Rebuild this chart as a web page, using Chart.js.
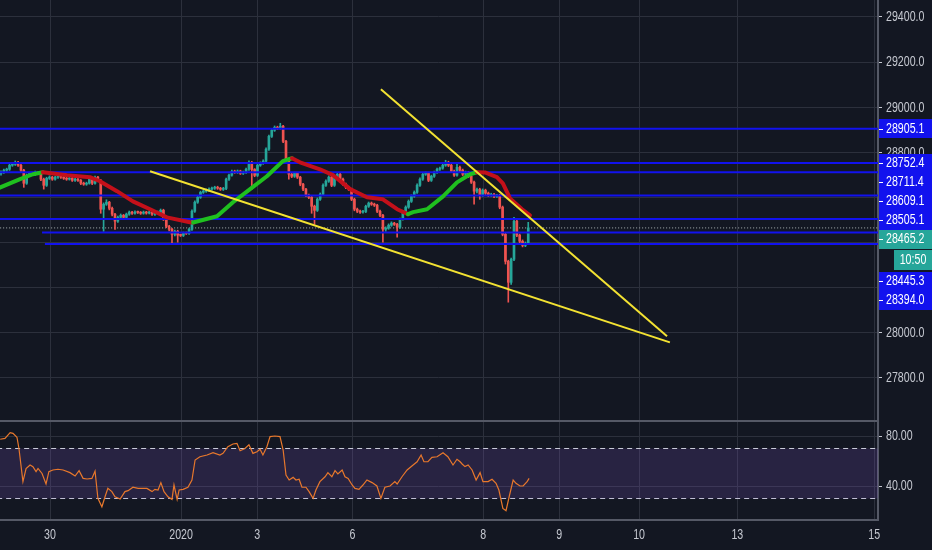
<!DOCTYPE html>
<html><head><meta charset="utf-8">
<script src="https://cdn.jsdelivr.net/npm/chart.js@4.4.1/dist/chart.umd.min.js"></script>
<style>
html,body{margin:0;padding:0;background:#131722;overflow:hidden}
#wrap{position:relative;width:932px;height:550px;background:#131722}
canvas{position:absolute;left:0}
#main{top:0}
#rsi{top:422px}
</style></head><body>
<div id="wrap"><canvas id="main" width="932" height="422"></canvas><canvas id="rsi" width="932" height="128"></canvas></div>
<script>
// ---------- data (hourly bars, index = bar number) ----------
const opens=[28705,28712,28721,28725,28743,28747,28756,28743,28721,28663,
28699,28707,28703,28712,28707,28681,28654,28685,28690,28681,
28690,28694,28690,28685,28681,28685,28676,28681,28676,28663,
28659,28663,28681,28663,28690,28676,28548,28570,28579,28552,
28526,28495,28512,28521,28512,28526,28535,28530,28535,28534,
28530,28535,28531,28535,28526,28530,28535,28543,28504,28472,
28459,28437,28450,28433,28432,28442,28441,28459,28539,28579,
28601,28623,28628,28632,28637,28641,28645,28641,28636,28640,
28681,28699,28716,28712,28717,28707,28712,28725,28756,28724,
28698,28743,28752,28761,28814,28871,28898,28911,28907,28916,
28849,28770,28703,28694,28707,28690,28659,28637,28610,28601,
28561,28543,28592,28614,28654,28672,28690,28654,28689,28703,
28681,28659,28645,28637,28592,28548,28539,28535,28538,28561,
28575,28570,28566,28539,28521,28459,28464,28477,28486,28481,
28468,28504,28530,28557,28583,28606,28623,28654,28681,28703,
28707,28676,28694,28712,28725,28730,28743,28756,28743,28716,
28699,28734,28721,28703,28711,28694,28668,28628,28636,28610,
28632,28619,28610,28614,28605,28609,28557,28437,28317,28224,
28326,28495,28433,28406,28388,28397];
const highs=[28718,28726,28730,28748,28753,28762,28760,28747,28725,28704,
28712,28712,28717,28716,28711,28686,28690,28696,28694,28695,
28699,28698,28694,28690,28690,28689,28686,28685,28680,28668,
28668,28686,28685,28695,28694,28680,28576,28590,28583,28557,
28530,28518,28527,28525,28531,28540,28539,28541,28540,28538,
28540,28539,28540,28539,28535,28540,28549,28548,28508,28477,
28463,28456,28455,28438,28447,28447,28464,28545,28585,28607,
28628,28634,28638,28643,28646,28650,28650,28645,28645,28686,
28704,28722,28721,28722,28721,28717,28730,28762,28760,28728,
28748,28758,28767,28820,28877,28904,28917,28916,28929,28920,
28853,28775,28708,28712,28711,28694,28663,28641,28615,28605,
28566,28598,28620,28660,28678,28696,28695,28694,28709,28707,
28686,28664,28650,28641,28597,28553,28544,28543,28566,28580,
28580,28575,28570,28544,28525,28470,28483,28492,28490,28485,
28509,28536,28563,28589,28612,28629,28660,28687,28709,28713,
28712,28699,28717,28730,28735,28749,28765,28761,28748,28721,
28750,28739,28726,28717,28716,28699,28673,28642,28641,28638,
28637,28624,28619,28619,28614,28614,28562,28442,28322,28332,
28512,28500,28438,28412,28403,28490];
const lows=[28699,28707,28716,28720,28738,28742,28738,28715,28645,28658,
28694,28697,28698,28702,28675,28637,28649,28680,28676,28677,
28685,28685,28680,28676,28677,28671,28671,28671,28657,28654,
28654,28659,28657,28659,28671,28530,28450,28565,28545,28518,
28459,28490,28507,28507,28508,28521,28525,28526,28529,28525,
28526,28526,28527,28521,28521,28525,28530,28498,28466,28452,
28397,28430,28402,28427,28427,28436,28436,28454,28534,28574,
28596,28618,28623,28627,28632,28636,28636,28631,28631,28635,
28676,28694,28707,28707,28702,28702,28707,28720,28637,28692,
28693,28738,28747,28756,28809,28866,28893,28901,28902,28843,
28763,28681,28688,28689,28684,28652,28630,28604,28595,28530,
28481,28538,28587,28609,28649,28667,28648,28649,28684,28675,
28653,28639,28631,28586,28541,28533,28529,28530,28533,28556,
28565,28560,28533,28515,28402,28450,28459,28472,28476,28424,
28463,28499,28525,28552,28578,28601,28618,28649,28676,28698,
28670,28671,28689,28707,28720,28725,28738,28737,28710,28693,
28694,28715,28697,28698,28688,28662,28570,28620,28592,28605,
28613,28604,28605,28599,28600,28550,28430,28305,28136,28215,
28320,28426,28399,28381,28382,28391];
const closes=[28712,28721,28725,28743,28747,28756,28743,28721,28663,28699,
28707,28703,28712,28707,28681,28654,28685,28690,28681,28690,
28694,28690,28685,28681,28685,28676,28681,28676,28663,28659,
28663,28681,28663,28690,28676,28548,28570,28579,28552,28526,
28495,28512,28521,28512,28526,28535,28530,28535,28534,28530,
28535,28531,28535,28526,28530,28535,28543,28504,28472,28459,
28437,28450,28433,28432,28442,28441,28459,28539,28579,28601,
28623,28628,28632,28637,28641,28645,28641,28636,28640,28681,
28699,28716,28712,28717,28707,28712,28725,28756,28724,28698,
28743,28752,28761,28814,28871,28898,28911,28907,28916,28849,
28770,28703,28694,28707,28690,28659,28637,28610,28601,28561,
28543,28592,28614,28654,28672,28690,28654,28689,28703,28681,
28659,28645,28637,28592,28548,28539,28535,28538,28561,28575,
28570,28566,28539,28521,28459,28464,28477,28486,28481,28468,
28504,28530,28557,28583,28606,28623,28654,28681,28703,28707,
28676,28694,28712,28725,28730,28743,28756,28743,28716,28699,
28734,28721,28703,28711,28694,28668,28628,28636,28610,28632,
28619,28610,28614,28605,28609,28557,28437,28317,28224,28326,
28495,28433,28406,28388,28397,28465.2];

// moving average line
const maX=[-1,6.7,11.2,14.7,23.2,31.2,34.7,40.7,46.3,52.3,58.2,66.3,67.4,75.8,81.4,87.4,93.3,98.9,102.1,104.9,111.9,116.5,122.5,128.4,134.0,139.0,142.8,144.6,149.5,155.1,160.0,164.6,167.0,169.8,174.0,176.1,178.6,182.8,185.6];
const maY=[28641,28681,28703,28712,28699,28690,28672,28628,28583,28548,28512,28490,28489,28517,28579,28637,28694,28761,28774,28756,28725,28699,28637,28601,28592,28548,28526,28535,28548,28605,28667,28703,28712,28711,28690,28663,28596,28548,28521];

// RSI
const rsiX=[-0.3,1.4,3.2,4.2,5.6,6.3,7.7,8.8,10.2,11.2,12.3,13.0,14.4,15.8,16.8,18.2,20.0,21.8,24.2,26.0,27.4,28.8,30.2,31.9,33.0,34.0,35.4,36.5,37.5,38.9,40.0,41.8,43.5,44.6,46.3,48.1,51.2,53.0,54.0,55.1,56.1,57.2,58.6,60.0,60.7,61.8,62.5,63.9,65.6,67.0,68.1,69.8,72.3,74.4,76.8,77.9,79.6,81.4,82.8,83.9,85.6,87.0,88.4,89.8,90.9,91.9,93.3,94.4,96.1,97.9,99.0,100.0,101.1,102.5,103.5,104.6,105.6,107.0,108.1,109.5,110.5,111.9,113.7,114.7,116.1,117.2,118.2,119.7,120.7,121.8,123.2,124.2,125.6,127.0,128.4,130.2,131.9,133.3,134.7,136.5,138.2,139.0,140.7,142.5,144.6,146.0,147.4,148.4,149.8,151.2,153.0,155.1,156.8,158.6,160.0,161.1,161.8,162.8,163.9,165.3,166.7,168.1,169.1,170.9,172.3,173.7,174.7,176.1,177.2,178.3,179.7,180.7,182.1,183.2,184.6,185.3];
const rsiY=[77.4,78.1,82.7,82.1,79,70,43.5,54,56.8,55.5,51.5,54,50,41.6,51.5,52.8,53.4,52.8,50.7,48,52.3,46.1,45.6,46.1,52,30.1,23.4,31.4,38.1,35.5,31.4,29.6,35.5,36.3,39,38.1,38.1,35.5,37.3,36.8,42.7,35.5,31.4,29.3,40.8,29.3,36.8,37.3,39,44.8,60.8,63.4,64.8,66.6,64.8,66.1,71.4,73.6,74.1,68.2,70,73,66.1,67.4,69.4,64.8,71.4,79.5,80,79.5,68.8,48.8,44.8,46.9,44.8,45.4,39,39,35.5,30.1,36.8,43.5,47.4,50.7,47.4,52.3,49.6,52.8,47.4,46.1,40.8,38.1,37.3,40.8,44.8,42.7,40,30.1,39,40,43.5,41.6,47.4,52.8,56.8,59.4,64.8,59.4,59.4,62.9,63.4,66.6,63.4,56.8,61.4,59.4,57.6,55.5,56.8,52.8,44.8,50.7,43.5,43.5,45.4,42.1,36.8,22.1,20.2,31.4,44.8,42.1,40,40,43.5,46.1];
const rsiLevels=[70,30];

// horizontal levels and trend lines
const levelPrices=[28905.1,28752.4,28711.4,28609.1,28505.1,28445.3,28394.0];
const levelStarts=[-1,-1,-1,-1,-1,14.4,15.4];
const lastPrice=28465.2;
const countdown='10:50';
const trendLower={x:[52.3,234.7],y:[28716,27958]};
const trendUpper={x:[133.3,233.7],y:[29080,27985]};

// axes
const tickLabels=['30','2020','3','6','8','9','10','13','15'];
const tickPositions=[17.2,63.2,89.9,123.3,169.2,195.9,223.9,258.35,306.4];
const priceTicks=[27800,28000,28200,28400,28600,28800,29000,29200,29400];
const rsiTicks=[40,80];

// ---------- styling ----------
const FONT="'Liberation Sans',Arial,sans-serif";
Chart.defaults.font.family=FONT;
const BG='#131722', GRID='#2c303c', SEP='#555966', TXT='#c5c8d0';
const UP='#26a69a', DOWN='#ef5350', BLUE='#1212ee', YEL='#f3e232';
const XMIN=-0.35, XMAX=307.72;
const PMAX=29475.3, PMIN=27609.4;
const SQ=0.76, FS=14; // condensed text like the reference's narrow face

const idx=closes.map((_,i)=>i);
const candleColor=c=>closes[c.dataIndex]>=opens[c.dataIndex]?UP:DOWN;
const pts=(xs,ys)=>xs.map((x,i)=>({x,y:ys[i]}));

function narrowText(c,text,x,y,align,color){
  c.save();c.font=FS+"px "+FONT;c.fillStyle=color;c.textBaseline='middle';c.textAlign=align;
  c.translate(x,y);c.scale(SQ,1);c.fillText(text,0,0);c.restore();
}

const bgPlugin={id:'bg',beforeDraw(ch){const c=ch.ctx;c.save();c.fillStyle=BG;c.fillRect(0,0,ch.width,ch.height);c.restore();}};

const axisTextPlugin={id:'axisText',afterDraw(ch,args,opts){
  const c=ch.ctx, y=ch.scales.y;
  y.ticks.forEach(t=>{const py=y.getPixelForValue(t.value);narrowText(c,Number(t.value).toFixed(opts.dec),y.left+8,py+0.5,'left',TXT);});
  if(opts.xlabels){const x=ch.scales.x;
    x.ticks.forEach((t,i)=>{narrowText(c,tickLabels[i],x.getPixelForValue(t.value),x.top+15,'center',TXT);});}
}};

const labelPlugin={id:'lbls',afterDraw(ch){
  const c=ch.ctx, y=ch.scales.y, left=y.left, W=ch.width-left, H=19;
  const items=levelPrices.map(p=>({p,col:BLUE,cur:false})).concat([{p:lastPrice,col:UP,cur:true}]);
  items.sort((a,b)=>b.p-a.p);
  let prev=-1e9;
  items.forEach(it=>{let cy=Math.max(y.getPixelForValue(it.p),prev+H/2);it.cy=cy;prev=cy+H/2+(it.cur?23:0);});
  items.forEach(it=>{
    c.save();
    c.fillStyle=it.col; c.fillRect(left+1,Math.round(it.cy-H/2),W,H);
    c.strokeStyle='#ffffff'; c.lineWidth=1; c.beginPath();c.moveTo(left+1,Math.round(it.cy)+0.5);c.lineTo(left+5,Math.round(it.cy)+0.5);c.stroke();
    c.restore();
    narrowText(c,it.p.toFixed(1),left+8,it.cy+0.5,'left','#ffffff');
    if(it.cur){
      const top=Math.round(it.cy+H/2)+1;
      c.save();c.fillStyle=UP; c.fillRect(left+16,top,W-16,20);c.restore();
      narrowText(c,countdown,left+16+(W-16)/2,top+10.5,'center','#ffffff');
    }
  });
}};

const xTicksHook=s=>{s.ticks=tickPositions.map(v=>({value:v}));};
const yFit=s=>{s.width=54;s.paddingTop=0;s.paddingBottom=0;};

new Chart(document.getElementById('main'),{
  type:'bar',
  data:{datasets:[
    {type:'line',data:pts(trendUpper.x,trendUpper.y),borderColor:YEL,borderWidth:2,pointRadius:0,order:0},
    {type:'line',data:pts(trendLower.x,trendLower.y),borderColor:YEL,borderWidth:2,pointRadius:0,order:0},
    {type:'line',data:pts(maX,maY),borderWidth:4,pointRadius:0,borderCapStyle:'round',borderJoinStyle:'round',
      segment:{borderColor:s=>s.p1.parsed.y>=s.p0.parsed.y?'#1fc01f':'#c4101a'},borderColor:'#c4101a',order:1},
    ...levelPrices.map((p,i)=>({type:'line',data:[{x:levelStarts[i],y:p},{x:XMAX+1,y:p}],borderColor:BLUE,borderWidth:2,pointRadius:0,order:2})),
    {type:'bar',data:idx.map(i=>({x:i,y:[opens[i],closes[i]]})),backgroundColor:candleColor,barThickness:2,grouped:false,minBarLength:1,order:3},
    {type:'bar',data:idx.map(i=>({x:i,y:[lows[i],highs[i]]})),backgroundColor:candleColor,barThickness:1,grouped:false,order:4},
    {type:'line',data:[{x:XMIN-1,y:lastPrice},{x:XMAX+1,y:lastPrice}],borderColor:'rgba(200,208,208,0.85)',borderWidth:1,borderDash:[1,2],pointRadius:0,order:5}
  ]},
  options:{
    responsive:false,animation:false,events:[],layout:{padding:0},
    plugins:{legend:{display:false},tooltip:{enabled:false},axisText:{dec:1,xlabels:false}},
    scales:{
      x:{type:'linear',min:XMIN,max:XMAX,offset:false,
        grid:{color:GRID,drawTicks:false,offset:false},border:{display:true,color:SEP,width:2},
        ticks:{display:false},afterBuildTicks:xTicksHook,afterFit:s=>{s.height=1;s.paddingLeft=0;s.paddingRight=0;}},
      y:{type:'linear',position:'right',min:PMIN,max:PMAX,
        grid:{color:GRID,tickLength:4,tickColor:TXT},border:{color:SEP,width:2},
        ticks:{display:false},
        afterBuildTicks:s=>{s.ticks=priceTicks.map(v=>({value:v}));},afterFit:yFit}
    }
  },
  plugins:[bgPlugin,axisTextPlugin,labelPlugin]
});

new Chart(document.getElementById('rsi'),{
  type:'line',
  data:{datasets:[
    {data:pts(rsiX,rsiY),borderColor:'#e8782c',borderWidth:1.2,pointRadius:0,order:0},
    {data:[{x:XMIN-1,y:rsiLevels[0]},{x:XMAX+1,y:rsiLevels[0]}],borderColor:'#c9cbd8',borderWidth:1,borderDash:[5,4],pointRadius:0,fill:'+1',backgroundColor:'rgba(126,87,194,0.2)',order:1},
    {data:[{x:XMIN-1,y:rsiLevels[1]},{x:XMAX+1,y:rsiLevels[1]}],borderColor:'#c9cbd8',borderWidth:1,borderDash:[5,4],pointRadius:0,order:2}
  ]},
  options:{
    responsive:false,animation:false,events:[],layout:{padding:0},
    plugins:{legend:{display:false},tooltip:{enabled:false},axisText:{dec:2,xlabels:true}},
    scales:{
      x:{type:'linear',min:XMIN,max:XMAX,offset:false,
        grid:{color:GRID,drawTicks:false},border:{display:true,color:SEP,width:2},
        ticks:{display:false},
        afterBuildTicks:xTicksHook,afterFit:s=>{s.height=30;s.paddingLeft=0;s.paddingRight=0;}},
      y:{type:'linear',position:'right',min:12.8,max:91.2,
        grid:{color:GRID,tickLength:4,tickColor:TXT},border:{color:SEP,width:2},
        ticks:{display:false},
        afterBuildTicks:s=>{s.ticks=rsiTicks.map(v=>({value:v}));},afterFit:yFit}
    }
  },
  plugins:[bgPlugin,axisTextPlugin]
});
</script>
</body></html>
